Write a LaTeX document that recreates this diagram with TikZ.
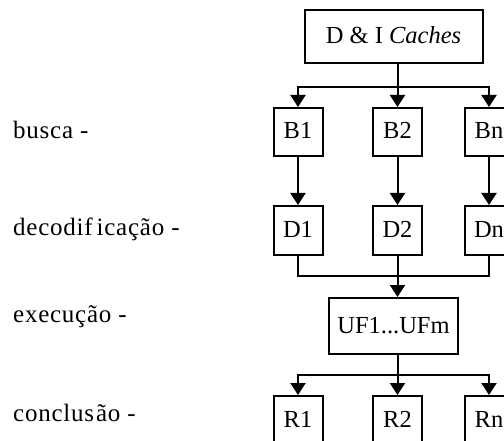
\documentclass[tikz,border=0pt]{standalone}
\usepackage{fontspec}
\setmainfont{Liberation Serif}
\newfontfamily\stagefont[LetterSpace=3]{Liberation Serif}
\usetikzlibrary{arrows.meta}
\begin{document}
\begin{tikzpicture}[x=1pt,y=-1pt,
  every node/.style={font=\fontsize{24.5}{28}\selectfont},
  box/.style={draw, line width=2pt, inner sep=0pt, minimum width=49pt,
    minimum height=48pt, text height=16pt, text depth=2pt},
  stagelabel/.style={anchor=base west, inner sep=0pt,
    font=\stagefont\fontsize{25}{28}\selectfont},
  wire/.style={line width=2pt},
  tip/.style={wire, -{Triangle[width=15pt,length=12pt]}}]
\useasboundingbox (0,0) rectangle (504,441);
\clip (0,0) rectangle (504,441);

% pipeline stage names
\node[stagelabel] (lbusca) at (13,139) {busca -};
\node[stagelabel] (ldec)   at (13,236) {decodif\kern4ptica\c{c}ão -};
\node[stagelabel] (lexec)  at (13,323) {execução -};
\node[stagelabel] (lconc)  at (13,421) {conclus\kern2ptão -};

% caches
\node[box, minimum width=178pt, minimum height=53pt] (top) at (393.5,36.5) {D \& I \textit{Caches}};

% fetch units
\node[box] (B1) at (298,132) {B1};
\node[box] (B2) at (397.5,132) {B2};
\node[box] (Bn) at (489,132) {Bn};

% decode units
\node[box, minimum height=49pt] (D1) at (298,230.5) {D1};
\node[box, minimum height=49pt] (D2) at (397.5,230.5) {D2};
\node[box, minimum height=49pt] (Dn) at (489,230.5) {Dn};

% functional units
\node[box, minimum width=129pt, minimum height=56pt] (UF) at (393.5,326) {UF1...UFm};

% completion units
\node[box] (R1) at (298,420) {R1};
\node[box] (R2) at (397.5,420) {R2};
\node[box] (Rn) at (489,420) {Rn};

% junction points
\coordinate (j1) at (397.5,87);
\coordinate (j2) at (397.5,276);
\coordinate (j3) at (397.5,375);

% caches -> fetch
\draw[wire] (j1 |- top.south) -- (j1);
\draw[tip] (j1) -| (B1.north);
\draw[tip] (j1) -- (B2.north);
\draw[tip] (j1) -| (Bn.north);

% fetch -> decode
\draw[tip] (B1.south) -- (D1.north);
\draw[tip] (B2.south) -- (D2.north);
\draw[tip] (Bn.south) -- (Dn.north);

% decode -> execute
\draw[wire] (D1.south) |- (j2) -| (Dn.south);
\draw[wire] (D2.south) -- (j2);
\draw[tip] (j2) -- (j2 |- UF.north);

% execute -> completion
\draw[wire] (j3 |- UF.south) -- (j3);
\draw[tip] (j3) -| (R1.north);
\draw[tip] (j3) -- (R2.north);
\draw[tip] (j3) -| (Rn.north);
\end{tikzpicture}
\end{document}
